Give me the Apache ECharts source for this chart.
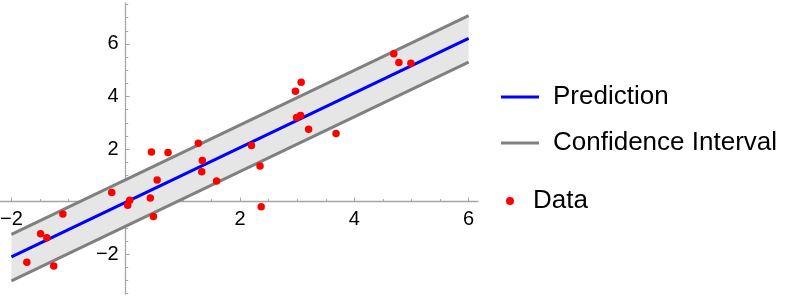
<!DOCTYPE html>
<html><head><meta charset="utf-8">
<script src="https://cdn.jsdelivr.net/npm/echarts@6/dist/echarts.min.js"></script>
<style>html,body{margin:0;padding:0;background:#fff}#c{width:789px;height:299px}</style>
</head><body><div id="c"></div>
<script>
// Fitted line and confidence band endpoints
const lineX = [-2, 6];
const predictionY = [-2.11, 6.21];
const upperY = [-1.25, 7.08];
const lowerY = [-3.02, 5.31];
// Observed data
const dataX = [-1.73, -1.49, -1.38, -1.26, -1.10, -0.245, 0.035, 0.07, 0.45, 0.43, 0.485, 0.55, 0.74, 1.27, 1.34, 1.33, 1.59, 2.20, 2.35, 2.37, 2.97, 3.07, 2.99, 3.06, 3.20, 3.68, 4.69, 4.78, 4.99];
const dataY = [-2.31, -1.23, -1.38, -2.45, -0.47, 0.34, -0.14, 0.05, 1.89, 0.14, -0.57, 0.82, 1.87, 2.22, 1.56, 1.13, 0.78, 2.13, 1.35, -0.2, 4.2, 4.54, 3.2, 3.28, 2.75, 2.59, 5.63, 5.29, 5.27];
// Ticks
const majorTicks = [-2, 2, 4, 6];
const xMinorTicks = [-1.5, -1, -0.5, 0.5, 1, 1.5, 2.5, 3, 3.5, 4.5, 5, 5.5];
const yMinorTicks = [-3.5, -3, -2.5, -1.5, -1, -0.5, 0.5, 1, 1.5, 2.5, 3, 3.5, 4.5, 5, 5.5, 6.5, 7, 7.5];

const FONT = "'Liberation Sans', Arial, sans-serif";
const AX = '#a6a6a6';
const fmt = v => (v < 0 ? '\u2212' + Math.abs(v) : String(v));
const pairs = (xs, ys) => xs.map((x, i) => [x, ys[i]]);

const GRID = {left: 0, top: 3, width: 478, height: 291};
const chart = echarts.init(document.getElementById('c'), null, {renderer: 'canvas'});
const xBase = {type: 'value', min: -2.2, max: 6.164, splitLine: {show: false}, position: 'bottom'};
const yBase = {type: 'value', min: -3.52, max: 7.56, splitLine: {show: false}, position: 'left'};

function axes(xOff, yOff) {
  return {
    xAxis: [
      Object.assign({}, xBase, {
        offset: xOff,
        axisLine: {show: true, onZero: false, lineStyle: {color: AX, width: 1.3}},
        axisTick: {show: true, inside: true, length: 4, customValues: majorTicks, lineStyle: {color: AX, width: 1}},
        axisLabel: {show: true, customValues: majorTicks, formatter: fmt, color: '#000', fontSize: 20, margin: 8, fontFamily: FONT}
      }),
      Object.assign({}, xBase, {
        offset: xOff,
        axisLine: {show: false, onZero: false},
        axisTick: {show: true, inside: true, length: 2.5, customValues: xMinorTicks, lineStyle: {color: AX, width: 1}},
        axisLabel: {show: false}
      })
    ],
    yAxis: [
      Object.assign({}, yBase, {
        offset: yOff,
        axisLine: {show: true, onZero: false, lineStyle: {color: AX, width: 1.3}},
        axisTick: {show: true, inside: true, length: 4, customValues: majorTicks, lineStyle: {color: AX, width: 1}},
        axisLabel: {show: true, customValues: majorTicks, formatter: fmt, color: '#000', fontSize: 20, margin: 7, fontFamily: FONT}
      }),
      Object.assign({}, yBase, {
        offset: yOff,
        axisLine: {show: false, onZero: false},
        axisTick: {show: true, inside: true, length: 2.5, customValues: yMinorTicks, lineStyle: {color: AX, width: 1}},
        axisLabel: {show: false}
      })
    ]
  };
}

const option = Object.assign({
  animation: false,
  textStyle: {fontFamily: FONT},
  grid: Object.assign({containLabel: false, outerBoundsMode: 'none'}, GRID),
  legend: [
    {
      data: ['Prediction', 'Confidence Interval'],
      orient: 'vertical', left: 501, top: 82, padding: 0,
      icon: 'rect', itemWidth: 38, itemHeight: 3, itemGap: 16,
      textStyle: {fontSize: 26, color: '#000', fontFamily: FONT, lineHeight: 30, padding: [0, 0, 0, 9]}
    },
    {
      data: ['Data'],
      orient: 'vertical', left: 506, top: 186, padding: 0,
      icon: 'circle', itemWidth: 8, itemHeight: 8,
      textStyle: {fontSize: 26, color: '#000', fontFamily: FONT, lineHeight: 30, padding: [0, 0, 0, 14]}
    }
  ],
  series: [
    {
      name: 'band', type: 'custom', silent: true, z: 1, clip: true,
      data: lineX.map((x, i) => [x, lowerY[i], upperY[i]]),
      encode: {x: 0, y: [1, 2]},
      renderItem: (params, api) => {
        if (params.dataIndexInside !== 0) return null;
        const top = lineX.map((x, i) => api.coord([x, upperY[i]]));
        const bottom = lineX.map((x, i) => api.coord([x, lowerY[i]])).reverse();
        return {type: 'polygon', shape: {points: top.concat(bottom)}, style: {fill: '#e6e6e6'}};
      }
    },
    {name: 'Confidence Interval', type: 'line', data: pairs(lineX, upperY), symbol: 'none',
     lineStyle: {color: '#808080', width: 3}, itemStyle: {color: '#808080'}, z: 2},
    {name: 'Confidence Interval', type: 'line', data: pairs(lineX, lowerY), symbol: 'none',
     lineStyle: {color: '#808080', width: 3}, itemStyle: {color: '#808080'}, z: 2},
    {name: 'Prediction', type: 'line', data: pairs(lineX, predictionY), symbol: 'none',
     lineStyle: {color: '#0000ff', width: 3}, itemStyle: {color: '#0000ff'}, z: 3},
    {name: 'Data', type: 'scatter', data: pairs(dataX, dataY), symbol: 'circle', symbolSize: 7.5,
     itemStyle: {color: '#ff0000', opacity: 1}, z: 4}
  ]
}, axes(0, 0));
chart.setOption(option);

// Place the axes so they cross at the data origin (0, 0)
const origin = chart.convertToPixel({xAxisIndex: 0, yAxisIndex: 0}, [0, 0]);
const gridBottom = GRID.top + GRID.height;
chart.setOption(axes(origin[1] - gridBottom, GRID.left - origin[0]));
</script></body></html>
